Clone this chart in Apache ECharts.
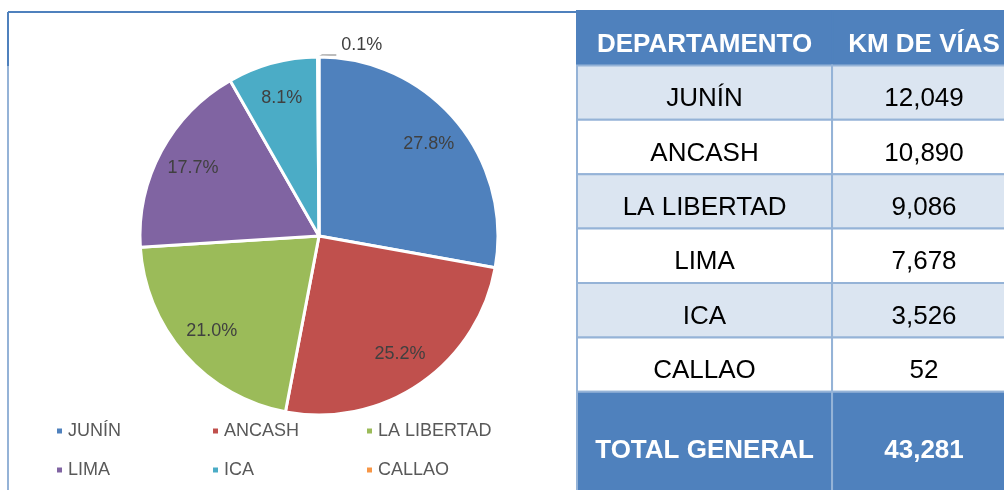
<!DOCTYPE html>
<html>
<head>
<meta charset="utf-8">
<title>Km de vías por departamento</title>
<script src="https://cdn.jsdelivr.net/npm/echarts@6.0.0/dist/echarts.min.js"></script>
<style>
  html, body { margin: 0; padding: 0; background: #fff; }
  #main { width: 1004px; height: 490px; }
</style>
</head>
<body>
<div id="main"></div>
<script>
// datos
const departamentos = ['JUNÍN', 'ANCASH', 'LA LIBERTAD', 'LIMA', 'ICA', 'CALLAO']
const kmVias = [12049, 10890, 9086, 7678, 3526, 52]
const encabezados = ['DEPARTAMENTO', 'KM DE VÍAS']
const etiquetaTotal = 'TOTAL GENERAL'
const colores = ['#4f81bd', '#c0504d', '#9bbb59', '#8064a2', '#4bacc6', '#f79646']

const fuente = '"Liberation Sans", Arial, sans-serif'
const total = kmVias.reduce((a, b) => a + b, 0)
const fmt = v => v.toLocaleString('en-US')

const pieData = departamentos.map((name, i) => ({ name: name, value: kmVias[i] }))

// filas de la tabla: encabezado, departamentos, total
const filas = [encabezados]
  .concat(departamentos.map((d, i) => [d, fmt(kmVias[i])]))
  .concat([[etiquetaTotal, fmt(total)]])
const tablaData = []
filas.forEach((fila, r) => {
  fila.forEach((txt, c) => tablaData.push([c, r, txt]))
})

// bordes de columnas (fraccion del ancho) y alto de filas (unidades del eje)
const colBordes = [0, 0.581, 1]
const ultima = filas.length - 1
const altoFila = r => (r === ultima ? 2.17 : 1)

function renderCelda(params, api) {
  const c = api.value(0)
  const r = api.value(1)
  const txt = tablaData[params.dataIndex][2]
  const p0 = api.coord([colBordes[c], r])
  const p1 = api.coord([colBordes[c + 1], r + altoFila(r)])
  const esCab = r === 0
  const esTotal = r === ultima
  const fondo = esCab || esTotal ? '#4f81bd' : (r % 2 === 1 ? '#dbe5f1' : '#ffffff')
  const yTxt = esTotal ? (p0[1] + p1[1]) / 2 : p0[1] + 0.62 * (p1[1] - p0[1])
  return {
    type: 'group',
    children: [
      {
        type: 'rect',
        shape: { x: p0[0], y: p0[1], width: p1[0] - p0[0], height: p1[1] - p0[1] },
        style: { fill: fondo, stroke: esCab ? fondo : '#95b3d7', lineWidth: 2 }
      },
      {
        type: 'text',
        style: {
          text: txt,
          x: (p0[0] + p1[0]) / 2,
          y: yTxt,
          align: 'center',
          verticalAlign: 'middle',
          fill: esCab || esTotal ? '#ffffff' : '#000000',
          font: (esCab || esTotal ? 'bold ' : '') + '26px ' + fuente
        }
      }
    ]
  }
}

const chart = echarts.init(document.getElementById('main'))

chart.setOption({
  animation: false,
  backgroundColor: '#ffffff',
  textStyle: { fontFamily: fuente },
  color: colores,
  graphic: [
    { type: 'line', shape: { x1: 8, y1: 12, x2: 577, y2: 12 }, style: { stroke: '#4f81bd', lineWidth: 2 } },
    { type: 'line', shape: { x1: 8, y1: 12, x2: 8, y2: 66 }, style: { stroke: '#4f81bd', lineWidth: 2 } },
    { type: 'line', shape: { x1: 8, y1: 66, x2: 8, y2: 490 }, style: { stroke: '#95b3d7', lineWidth: 2 } }
  ],
  legend: [0, 1, 2].map(k => ({
    orient: 'vertical',
    left: [55, 211, 365][k],
    top: 422,
    padding: 0,
    itemWidth: 7,
    itemHeight: 7,
    itemGap: 21,
    icon: 'rect',
    selectedMode: false,
    data: [departamentos[k], departamentos[k + 3]],
    textStyle: { color: '#595959', fontSize: 18, lineHeight: 18, fontFamily: fuente }
  })),
  grid: { left: 577, top: 11, width: 439, height: 489.6, outerBoundsMode: 'none' },
  xAxis: { type: 'value', min: 0, max: 1, show: false },
  yAxis: { type: 'value', min: 0, max: 9, inverse: true, show: false },
  series: [
    {
      type: 'pie',
      center: [319, 236],
      radius: 179,
      startAngle: 90,
      clockwise: true,
      silent: true,
      data: pieData,
      label: { show: false },
      labelLine: { show: false },
      itemStyle: { borderColor: '#ffffff', borderWidth: 3 },
      emphasis: { disabled: true }
    },
    {
      // anillo transparente solo para colocar las etiquetas a ~0.78 del radio
      type: 'pie',
      center: [319, 236],
      radius: [101, 179],
      startAngle: 90,
      clockwise: true,
      silent: true,
      data: pieData.map((d, i) => i === pieData.length - 1
        ? { name: d.name, value: d.value, label: { position: 'outside' }, labelLine: { show: true } }
        : d),
      itemStyle: { color: 'transparent', borderWidth: 0 },
      label: {
        show: true,
        position: 'inside',
        color: '#404040',
        fontSize: 18,
        fontFamily: fuente,
        formatter: p => (p.value / total * 100).toFixed(1) + '%'
      },
      labelLine: { show: false, length: 3, length2: 14, lineStyle: { color: '#a6a6a6', width: 1.5 } },
      labelLayout: function (p) {
        if (p.dataIndex !== pieData.length - 1 || !p.labelLinePoints) return
        // la etiqueta pequeña va a la derecha del borde superior
        const inicio = p.labelLinePoints[0]
        const codo = [inicio[0] + 4, inicio[1] - 2]
        const fin = [codo[0] + 14, codo[1]]
        return {
          x: fin[0] + 5,
          y: fin[1] - 10,
          align: 'left',
          verticalAlign: 'middle',
          labelLinePoints: [inicio, codo, fin]
        }
      },
      emphasis: { disabled: true }
    },
    {
      type: 'custom',
      silent: true,
      renderItem: renderCelda,
      data: tablaData.map(d => [d[0], d[1]])
    }
  ]
})
</script>
</body>
</html>
